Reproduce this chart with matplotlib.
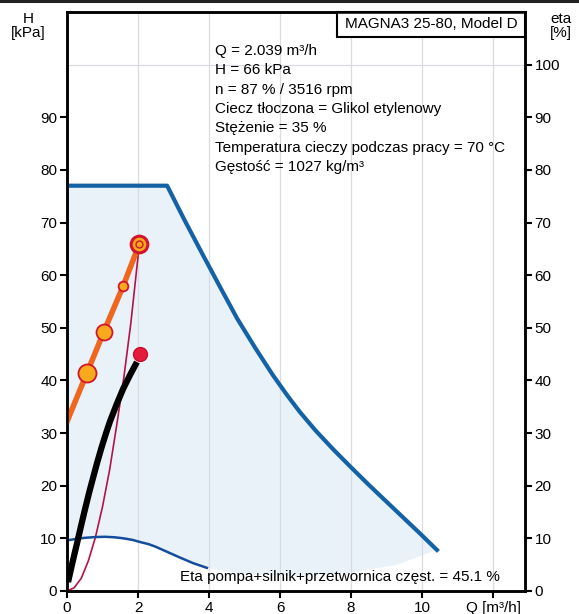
import numpy as np
import matplotlib
matplotlib.use('Agg')
import matplotlib.pyplot as plt
from matplotlib.patches import Rectangle
from matplotlib.lines import Line2D

plt.rcParams['font.family'] = ['Liberation Sans', 'DejaVu Sans']

# max curve (H, kPa)
max_q = [0, 2.82, 3.3, 3.8, 4.3, 4.79, 5.3, 5.8, 6.2, 6.56, 7.0, 7.5, 7.97, 8.45, 8.9, 9.4, 9.9, 10.42]
max_h = [77, 77, 70.6, 64.2, 57.9, 51.8, 46.2, 41.0, 37.2, 34.0, 30.5, 26.9, 23.7, 20.5, 17.6, 14.4, 11.2, 7.8]
# lower edge of the working area
min_q = [0, 1.07, 2.06, 2.9, 3.94, 5.0, 6.5, 8.0, 9.3, 10.42]
min_h = [9.6, 10.3, 9.3, 7.2, 4.4, 3.2, 2.8, 3.5, 5.0, 7.8]

# control curve with operating points
ctrl_q = [0, 0.56, 1.04, 1.58, 2.04]
ctrl_h = [32.2, 41.4, 49.3, 57.9, 66]
pts_q = [0.56, 1.04, 1.58]
pts_h = [41.4, 49.3, 57.9]
pts_size = [13, 11.5, 7]

# system curve
sys_q = [0, 0.2, 0.4, 0.6, 0.8, 1.0, 1.2, 1.4, 1.6, 1.8, 2.04]
sys_h = [0, 0.6, 2.4, 5.7, 10.2, 16, 23, 31.5, 40.5, 51, 66]

# black curve
blk_q = [0.03, 0.15, 0.28, 0.4, 0.51, 0.62, 0.73, 0.85, 0.97, 1.1, 1.21, 1.4, 1.58, 1.78, 1.97]
blk_h = [1.7, 5.3, 9.0, 12.5, 15.6, 18.6, 21.4, 24.4, 27.2, 30.0, 32.2, 35.5, 38.4, 41.1, 43.5]
red_pt = (2.06, 45)

# efficiency curve (eta, %)
eta_q = [0, 0.25, 0.5, 0.8, 1.07, 1.35, 1.6, 1.85, 2.06, 2.3, 2.5, 2.7, 2.9, 3.2, 3.55, 3.94]
eta_v = [9.6, 9.9, 10.1, 10.25, 10.3, 10.2, 10.0, 9.7, 9.3, 8.9, 8.4, 7.8, 7.2, 6.3, 5.3, 4.4]

duty_q, duty_h = 2.04, 66

info = ["Q = 2.039 m³/h",
        "H = 66 kPa",
        "n = 87 % / 3516 rpm",
        "Ciecz tłoczona = Glikol etylenowy",
        "Stężenie = 35 %",
        "Temperatura cieczy podczas pracy = 70 °C",
        "Gęstość = 1027 kg/m³"]

fig = plt.figure(figsize=(5.79, 6.14), dpi=100)
ax = fig.add_axes([67/579, 1-591/614, 458/579, 579/614])
ax.set_xlim(0, 12.9)
ax.set_ylim(0, 110)

# working area
poly_x = max_q + min_q[::-1]
poly_y = max_h + min_h[::-1]
ax.fill(poly_x, poly_y, color='#e9f2f9', lw=0, zorder=0.1)

ax.set_axisbelow(True)
ax.set_xticks(range(0, 13, 2))
ax.set_xticklabels(['0', '2', '4', '6', '8', '10', 'Q [m³/h]'])
ax.set_yticks(range(0, 100, 10))
ax.set_yticks(range(0, 110, 10), minor=True)
ax.grid(True, which='major', axis='x', color='#d9dbe3', lw=0.9)
ax.grid(True, which='minor', axis='y', color='#d9dbe3', lw=0.9)
ax.tick_params(which='minor', length=0)
ax.tick_params(which='major', direction='out', length=5, width=1.5, labelsize=11, pad=2)

ax2 = ax.twinx()
ax2.set_ylim(0, 110)
ax2.set_yticks(range(0, 110, 10))
ax2.tick_params(direction='out', length=5, width=1.5, labelsize=11, pad=2)

for a in (ax, ax2):
    for s in a.spines.values():
        s.set_linewidth(1.8)

ax.plot(max_q, max_h, color='#1462a6', lw=3, solid_joinstyle='round', zorder=3)
ax.plot(sys_q, sys_h, color='#b4124a', lw=1.2, zorder=3)
ax.plot(blk_q, blk_h, color='black', lw=4.5, solid_capstyle='butt', zorder=4)
ax.plot(*red_pt, 'o', ms=10, mfc='#e41c3c', mec='#c8102e', mew=1, zorder=5)
ax.plot(ctrl_q, ctrl_h, color='#f0661e', lw=4, zorder=4)
for q, h, s in zip(pts_q, pts_h, pts_size):
    ax.plot(q, h, 'o', ms=s, mfc='#f8a91c', mec='#d2152c', mew=1.3, zorder=5)
ax.plot(duty_q, duty_h, 'o', ms=12, mfc='#f8a91c', mec='#d2152c', mew=2.2, zorder=6)
ax.plot(duty_q, duty_h, 'o', ms=5, mfc='#f8a91c', mec='#d2152c', mew=1, zorder=7)
ax.plot(eta_q, eta_v, color='#154d9e', lw=1.8, zorder=3)

ax.text(4.17, 103.9, "\n".join(info), fontsize=11, va='top', ha='left', linespacing=1.48, zorder=8)

ax.add_patch(Rectangle((270/458, 1-25/579), 188/458, 25/579, transform=ax.transAxes,
                       fc='white', ec='black', lw=1.5, zorder=9, clip_on=False))
ax.text(0.5895 + 0.4105/2, 1-12.5/579, "MAGNA3 25-80, Model D", transform=ax.transAxes,
        ha='center', va='center', fontsize=11, zorder=10)

ax.text(12.2, 2.6, "Eta pompa+silnik+przetwornica częst. = 45.1 %",
        ha='right', va='center', fontsize=11, zorder=8)

fig.text(28/579, 1-26/614, "H\n[kPa]", ha='center', va='center', fontsize=11, linespacing=1.0)
fig.text(561/579, 1-26/614, "eta\n[%]", ha='center', va='center', fontsize=11, linespacing=1.0)

fig.add_artist(Line2D([0, 1], [1-1/614, 1-1/614], color='#222222', lw=2.2))

fig.savefig('out.png', dpi=100)
